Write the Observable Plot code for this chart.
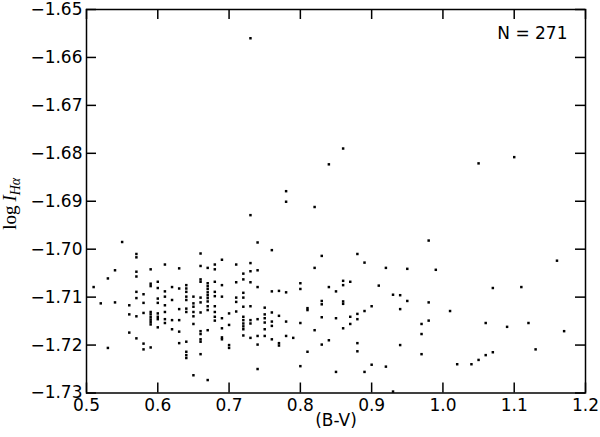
<!DOCTYPE html>
<html><head><meta charset="utf-8">
<script src="https://cdn.jsdelivr.net/npm/d3@7"></script>
<script src="https://cdn.jsdelivr.net/npm/@observablehq/plot@0.6"></script>
<style>body{margin:0;background:#fff}</style>
</head><body><div id="chart"></div>
<script>
// B-V colour of each star
const bv = [
 0.51, 0.52, 0.53,0.53, 0.54,0.54, 0.55, 0.56,0.56,0.56,
 0.57,0.57,0.57,0.57,0.57,0.57,0.57,0.57,
 0.58,0.58,0.58,0.58,0.58,
 0.59,0.59,0.59,0.59,0.59,0.59,0.59,0.59,0.59,0.59,
 0.60,0.60,0.60,0.60,0.60,0.60,0.60,0.60,
 0.61,0.61,0.61,0.61,0.61,0.61,0.61,
 0.62,0.62,0.62,0.62,
 0.63,0.63,0.63,0.63,0.63,0.63,
 0.64,0.64,0.64,0.64,0.64,0.64,0.64,0.64,0.64,0.64,0.64,
 0.65,0.65,0.65,0.65,0.65,0.65,0.65,
 0.66,0.66,0.66,0.66,0.66,0.66,0.66,0.66,0.66,0.66,0.66,0.66,
 0.67,0.67,0.67,0.67,0.67,0.67,0.67,0.67,0.67,0.67,0.67,0.67,
 0.68,0.68,0.68,0.68,0.68,0.68,0.68,0.68,0.68,
 0.69,0.69,0.69,0.69,0.69,0.69,0.69,
 0.70,0.70,0.70,0.70,
 0.71,0.71,0.71,0.71,0.71,
 0.72,0.72,0.72,0.72,0.72,0.72,0.72,0.72,0.72,0.72,0.72,
 0.73,0.73,0.73,0.73,0.73,0.73,0.73,0.73,0.73,
 0.74,0.74,0.74,0.74,0.74,0.74,0.74,
 0.75,0.75,0.75,0.75,0.75,0.75,
 0.76,0.76,0.76,0.76,0.76,0.76,
 0.77,0.77,0.77,0.77,
 0.78,0.78,0.78,0.78,0.78,
 0.79,
 0.80,0.80,0.80,0.80,
 0.81,0.81,0.81,
 0.82,0.82,0.82,
 0.83,0.83,0.83,0.83,0.83,
 0.84,0.84,0.84,
 0.85,0.85,0.85,
 0.86,0.86,0.86,0.86,0.86,0.86,
 0.87,0.87,0.87,
 0.88,0.88,0.88,0.88,0.88,
 0.89,0.89,0.89,
 0.90,0.90, 0.91, 0.92,0.92, 0.93,0.93,
 0.94,0.94,0.94, 0.95,0.95,
 0.97,0.97,0.97, 0.98,0.98,0.98, 0.99,
 1.01, 1.02, 1.04, 1.05,1.05, 1.06,1.06, 1.07,1.07,
 1.09, 1.10, 1.11, 1.12, 1.13, 1.16, 1.17
];
// log I(H-alpha) of each star, same order
const logI = [
 -1.7079, -1.7113, -1.7061,-1.7206, -1.7044,-1.7111, -1.6985, -1.7117,-1.7136,-1.7174,
 -1.7010,-1.7017,-1.7047,-1.7057,-1.7089,-1.7102,-1.7140,-1.7186,
 -1.7094,-1.7112,-1.7133,-1.7197,-1.7209,
 -1.7042,-1.7072,-1.7077,-1.7131,-1.7136,-1.7142,-1.7147,-1.7152,-1.7157,-1.7205,
 -1.7068,-1.7081,-1.7103,-1.7112,-1.7134,-1.7141,-1.7146,-1.7163,
 -1.7032,-1.7088,-1.7099,-1.7117,-1.7131,-1.7146,-1.7154,
 -1.7079,-1.7106,-1.7148,-1.7167,
 -1.7040,-1.7082,-1.7125,-1.7148,-1.7172,-1.7196,
 -1.7075,-1.7082,-1.7089,-1.7099,-1.7106,-1.7124,-1.7131,-1.7193,-1.7214,-1.7221,-1.7227,
 -1.7099,-1.7113,-1.7120,-1.7131,-1.7140,-1.7156,-1.7263,
 -1.7009,-1.7035,-1.7063,-1.7068,-1.7101,-1.7111,-1.7132,-1.7171,-1.7177,-1.7188,-1.7193,-1.7219,
 -1.7039,-1.7071,-1.7077,-1.7083,-1.7090,-1.7096,-1.7102,-1.7109,-1.7119,-1.7127,-1.7169,-1.7273,
 -1.7032,-1.7042,-1.7068,-1.7089,-1.7098,-1.7119,-1.7131,-1.7141,-1.7149,
 -1.7022,-1.7075,-1.7099,-1.7144,-1.7165,-1.7184,-1.7188,
 -1.7134,-1.7158,-1.7200,-1.7206,
 -1.7032,-1.7069,-1.7101,-1.7110,-1.7130,
 -1.7051,-1.7063,-1.7091,-1.7101,-1.7120,-1.7141,-1.7148,-1.7155,-1.7161,-1.7167,-1.7180,
 -1.6560,-1.6929,-1.7029,-1.7046,-1.7069,-1.7119,-1.7148,-1.7155,-1.7185,
 -1.6986,-1.7044,-1.7079,-1.7146,-1.7181,-1.7199,-1.7250,
 -1.7122,-1.7136,-1.7144,-1.7153,-1.7167,-1.7181,
 -1.7002,-1.7088,-1.7132,-1.7151,-1.7160,-1.7188,
 -1.7087,-1.7139,-1.7196,-1.7201,
 -1.6879,-1.6901,-1.7090,-1.7151,-1.7181,
 -1.7185,
 -1.7071,-1.7083,-1.7154,-1.7244,
 -1.7123,-1.7127,-1.7214,
 -1.6912,-1.7039,-1.7169,
 -1.7014,-1.7108,-1.7115,-1.7142,-1.7199,
 -1.6823,-1.7079,-1.7190,
 -1.7088,-1.7144,-1.7256,
 -1.6790,-1.7066,-1.7075,-1.7109,-1.7114,-1.7165,
 -1.7068,-1.7141,-1.7156,
 -1.7010,-1.7135,-1.7146,-1.7196,-1.7213,
 -1.7028,-1.7129,-1.7256,
 -1.7119,-1.7241, -1.7076, -1.7039,-1.7245, -1.7095,-1.7297,
 -1.7096,-1.7125,-1.7200, -1.7041,-1.7108,
 -1.7156,-1.7177,-1.7219, -1.6982,-1.7111,-1.7149, -1.7043,
 -1.7129, -1.7240, -1.7240, -1.6821,-1.7231, -1.7154,-1.7221, -1.7081,-1.7215,
 -1.7162, -1.6808, -1.7079, -1.7154, -1.7209, -1.7024, -1.7171
];
const xTicks = [0.5, 0.6, 0.7, 0.8, 0.9, 1.0, 1.1, 1.2];
const yTicks = [-1.65, -1.66, -1.67, -1.68, -1.69, -1.70, -1.71, -1.72, -1.73];
const nLabel = "N = 271";
const xLabel = "(B-V)";

const data = bv.map((x, i) => ({x, y: logI[i]}));
const W = 600, H = 437, mL = 86, mR = 15, mT = 9, mB = 44.5;
const innerW = W - mL - mR, innerH = H - mT - mB, tk = 10;

const svg = Plot.plot({
  width: W, height: H,
  marginLeft: mL, marginRight: mR, marginTop: mT, marginBottom: mB,
  style: {fontFamily: "DejaVu Sans", fontSize: "17px", background: "white", color: "black", overflow: "visible"},
  x: {domain: [0.5, 1.2]},
  y: {domain: [-1.73, -1.65]},
  marks: [
    Plot.axisX(xTicks, {tickSize: 0, tickPadding: 6, tickFormat: d3.format(".1f"), label: null, fontSize: 17}),
    Plot.axisY(yTicks, {tickSize: 0, tickPadding: 4, tickFormat: d3.format(".2f"), label: null, fontSize: 17}),
    Plot.tickX(xTicks, {x: d => d, insetTop: innerH - tk, strokeWidth: 1.5}),
    Plot.tickX(xTicks, {x: d => d, insetBottom: innerH - tk, strokeWidth: 1.5}),
    Plot.tickY(yTicks, {y: d => d, insetRight: innerW - tk, strokeWidth: 1.5}),
    Plot.tickY(yTicks, {y: d => d, insetLeft: innerW - tk, strokeWidth: 1.5}),
    Plot.dot(data, {x: "x", y: "y", symbol: "square", r: 1.4, fill: "black"}),
    Plot.frame({stroke: "black", strokeWidth: 1.5}),
    Plot.text([nLabel], {text: d => d, frameAnchor: "top-right", dx: -18, dy: 24, textAnchor: "end", lineAnchor: "middle", fontSize: 17}),
    Plot.text([xLabel], {text: d => d, frameAnchor: "bottom", dy: 28, lineAnchor: "middle", fontSize: 17})
  ]
});

const yl = d3.select(svg).append("text")
  .attr("transform", `translate(16,${mT + innerH / 2 + 3}) rotate(-90)`)
  .attr("text-anchor", "middle")
  .attr("font-family", "Liberation Serif")
  .attr("font-size", 19)
  .attr("fill", "black");
yl.append("tspan").text("log\u2009");
yl.append("tspan").attr("font-style", "italic").text("I");
yl.append("tspan").attr("font-style", "italic").attr("font-size", 14).attr("dy", 4).text("Hα");

document.getElementById("chart").appendChild(svg);
</script>
</body></html>
